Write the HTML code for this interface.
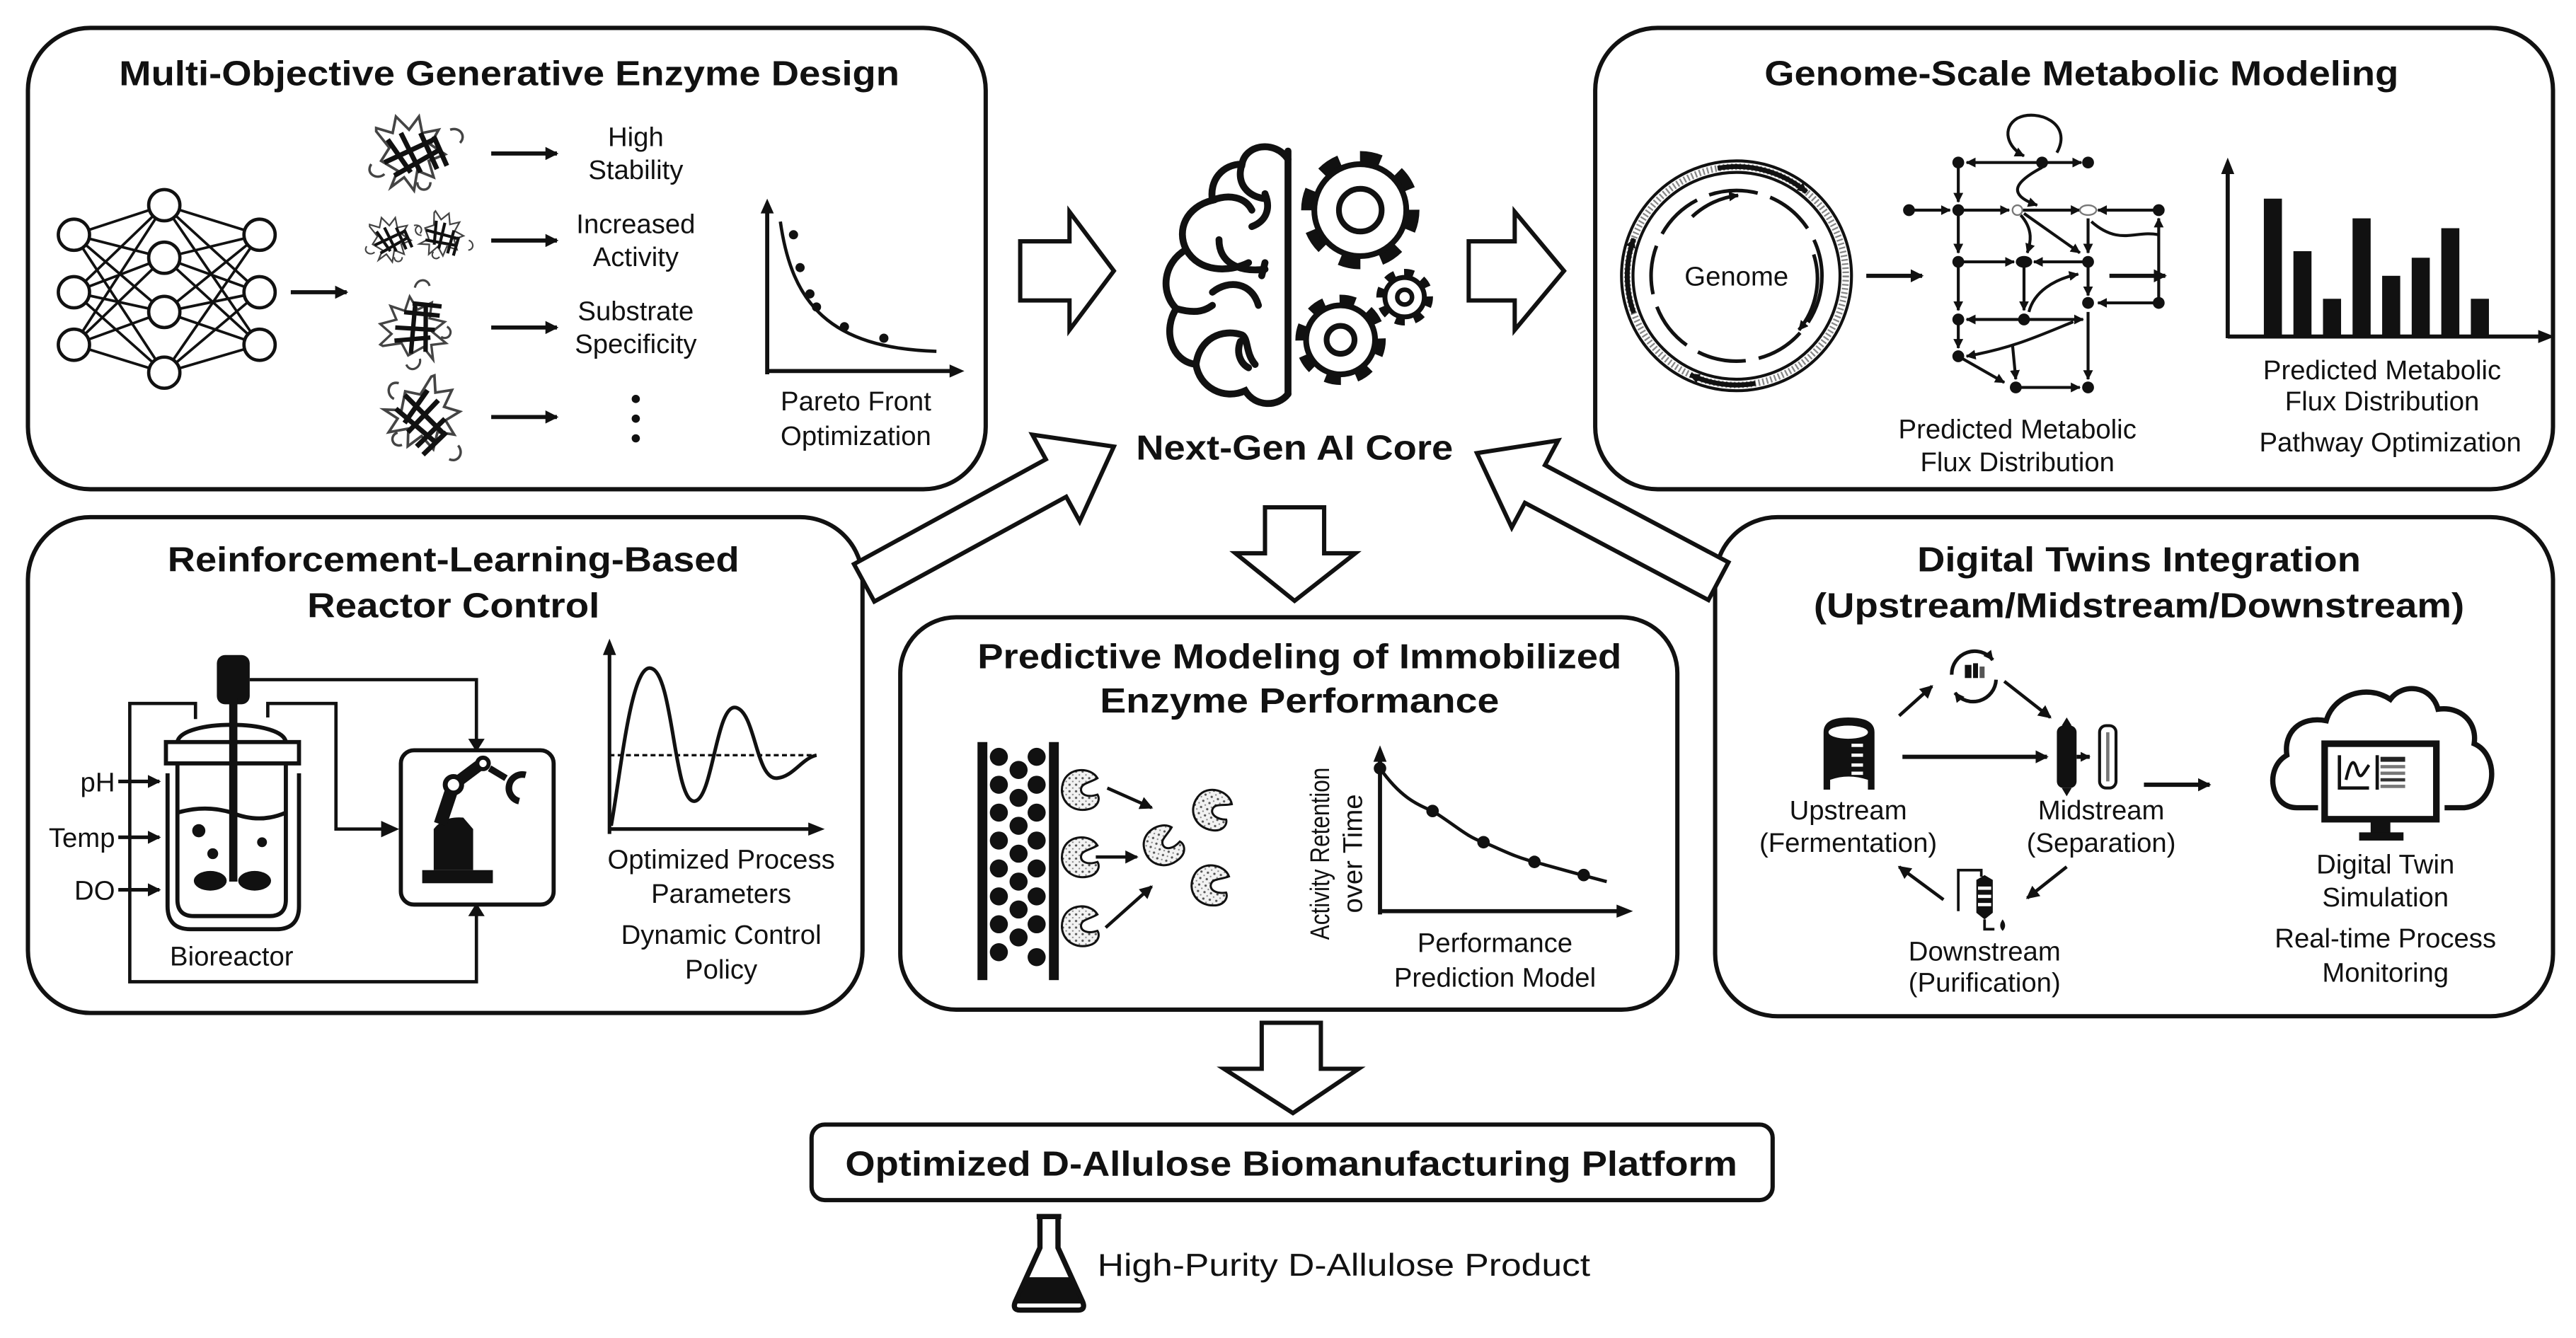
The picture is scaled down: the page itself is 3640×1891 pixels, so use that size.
<!DOCTYPE html>
<html><head><meta charset="utf-8"><style>
html,body{margin:0;padding:0;background:#fff;}
svg{display:block;}
text{font-family:"Liberation Sans",Arial,sans-serif;fill:#111;}
.t{font-weight:bold;font-size:21px;}
.b{font-size:16.5px;}
</style></head><body>
<svg width="3640" height="1891" viewBox="0 0 1568 815" preserveAspectRatio="none" xmlns="http://www.w3.org/2000/svg">
<defs>
<marker id="ah" markerWidth="8" markerHeight="8" refX="7" refY="4" orient="auto" markerUnits="userSpaceOnUse"><path d="M0,0 L8,4 L0,8 Z" fill="#111"/></marker>
<marker id="ahs" markerWidth="6" markerHeight="6" refX="5.5" refY="3" orient="auto" markerUnits="userSpaceOnUse"><path d="M0,0 L6,3 L0,6 Z" fill="#111"/></marker>
<pattern id="dots" width="4" height="4" patternUnits="userSpaceOnUse"><rect width="4" height="4" fill="#f2f2f2"/><circle cx="1" cy="1" r="0.7" fill="#555"/><circle cx="3" cy="3" r="0.5" fill="#888"/></pattern>
<g id="enz"><path d="M10,-7 C6,-14 -8,-14 -11,-4 C-14,6 -6,14 4,12 C10,11 12,6 10,3 C4,5 0,3 0,0 C0,-4 5,-4 10,-7 Z" fill="url(#dots)" stroke="#111" stroke-width="1.3"/></g>
<g id="prot" fill="none" stroke="#111">
<path d="M-25,-15 l8,10 -5,8 10,6 -4,10 8,-6 6,8 2,-12 10,4 -3,-10 10,-4 -9,-6 5,-9 -10,2 -2,-10 -6,8 -8,-8 -2,10 -10,-3 z" stroke-width="1.6" stroke="#444"/>
<path d="M-18,-10 l14,20 M-10,-14 l12,24 M2,-14 l10,22 M10,-12 l8,18 M-20,4 l30,-14 M-14,12 l28,-16" stroke-width="3"/>
<path d="M-28,5 c-4,6 4,10 8,6 M20,-16 c6,-2 10,4 6,8 M0,16 c0,6 8,6 8,0" stroke-width="1.5" stroke="#444"/>
</g>
</defs>
<rect width="1568" height="815" fill="#fff"/>

<g fill="none" stroke="#111" stroke-width="2.6">
<rect x="17" y="17" width="583" height="281" rx="38"/>
<rect x="971" y="17" width="583" height="281" rx="38"/>
<rect x="17" y="315" width="508" height="302" rx="38"/>
<rect x="548" y="376" width="473" height="239" rx="34"/>
<rect x="1044" y="315" width="510" height="304" rx="38"/>
<rect x="494" y="685" width="585" height="46" rx="8"/>
</g>

<g fill="#fff" stroke="#111" stroke-width="2.6" stroke-linejoin="miter">
<polygon points="621,147 651,147 651,129 678,165 651,201 651,183 621,183"/>
<polygon points="894,147 922,147 922,129 952,165 922,201 922,183 894,183"/>
<polygon points="519.8,343.6 636.6,279.8 628.4,264.8 678,272 657.2,317.6 649,302.6 532.2,366.4"/>
<polygon points="1052.1,342.5 940.4,283.3 948.4,268.3 899,276 920.2,321.3 928.2,306.3 1039.9,365.5"/>
<polygon points="770,309 806,309 806,337 825,337 788,366 752,337 770,337"/>
<polygon points="768,623 804,623 804,651 827,651 787,678 745,651 768,651"/>
</g>

<text class="t" x="310" y="52" text-anchor="middle" textLength="475" lengthAdjust="spacingAndGlyphs">Multi-Objective Generative Enzyme Design</text>
<g stroke="#111" stroke-width="1.6">
<line x1="45" y1="143" x2="100" y2="125"/><line x1="45" y1="143" x2="100" y2="157"/><line x1="45" y1="143" x2="100" y2="190"/><line x1="45" y1="143" x2="100" y2="227"/>
<line x1="45" y1="178" x2="100" y2="125"/><line x1="45" y1="178" x2="100" y2="157"/><line x1="45" y1="178" x2="100" y2="190"/><line x1="45" y1="178" x2="100" y2="227"/>
<line x1="45" y1="210" x2="100" y2="125"/><line x1="45" y1="210" x2="100" y2="157"/><line x1="45" y1="210" x2="100" y2="190"/><line x1="45" y1="210" x2="100" y2="227"/>
<line x1="158" y1="143" x2="100" y2="125"/><line x1="158" y1="143" x2="100" y2="157"/><line x1="158" y1="143" x2="100" y2="190"/><line x1="158" y1="143" x2="100" y2="227"/>
<line x1="158" y1="178" x2="100" y2="125"/><line x1="158" y1="178" x2="100" y2="157"/><line x1="158" y1="178" x2="100" y2="190"/><line x1="158" y1="178" x2="100" y2="227"/>
<line x1="158" y1="210" x2="100" y2="125"/><line x1="158" y1="210" x2="100" y2="157"/><line x1="158" y1="210" x2="100" y2="190"/><line x1="158" y1="210" x2="100" y2="227"/>
</g>
<g fill="#fff" stroke="#111" stroke-width="2">
<circle cx="45" cy="143" r="9.5"/><circle cx="45" cy="178" r="9.5"/><circle cx="45" cy="210" r="9.5"/>
<circle cx="100" cy="125" r="9.5"/><circle cx="100" cy="157" r="9.5"/><circle cx="100" cy="190" r="9.5"/><circle cx="100" cy="227" r="9.5"/>
<circle cx="158" cy="143" r="9.5"/><circle cx="158" cy="178" r="9.5"/><circle cx="158" cy="210" r="9.5"/>
</g>
<line x1="177" y1="178" x2="211" y2="178" stroke="#111" stroke-width="2.5" marker-end="url(#ah)"/>
<use href="#prot" x="254" y="95"/>
<use href="#prot" transform="translate(240,147) scale(0.6)"/>
<use href="#prot" transform="translate(270,146) scale(0.6) rotate(40)"/>
<use href="#prot" transform="translate(256,198) scale(0.9) rotate(-60)"/>
<use href="#prot" transform="translate(257,258) rotate(70)"/>
<g stroke="#111" stroke-width="2.5">
<line x1="299" y1="93.5" x2="339" y2="93.5" marker-end="url(#ah)"/>
<line x1="299" y1="146.5" x2="339" y2="146.5" marker-end="url(#ah)"/>
<line x1="299" y1="199.5" x2="339" y2="199.5" marker-end="url(#ah)"/>
<line x1="299" y1="254" x2="339" y2="254" marker-end="url(#ah)"/>
</g>
<text class="b" x="387" y="89" text-anchor="middle">High</text><text class="b" x="387" y="109" text-anchor="middle">Stability</text>
<text class="b" x="387" y="142" text-anchor="middle">Increased</text><text class="b" x="387" y="162" text-anchor="middle">Activity</text>
<text class="b" x="387" y="195" text-anchor="middle">Substrate</text><text class="b" x="387" y="215" text-anchor="middle">Specificity</text>
<text class="b" x="521" y="250" text-anchor="middle">Pareto Front</text><text class="b" x="521" y="271" text-anchor="middle">Optimization</text>
<circle cx="387" cy="243" r="2.5" fill="#111"/><circle cx="387" cy="255" r="2.5" fill="#111"/><circle cx="387" cy="267" r="2.5" fill="#111"/>
<path d="M467,228 V124 M467,226 H584" stroke="#111" stroke-width="2.5" fill="none"/>
<path d="M463,130 L467,121 L471,130 Z M578,222 L587,226 L578,230 Z" fill="#111"/>
<path d="M475,135 C482,185 505,212 570,214" stroke="#111" stroke-width="2" fill="none"/>
<g fill="#111"><circle cx="483" cy="143" r="2.8"/><circle cx="487" cy="163" r="2.8"/><circle cx="493" cy="179" r="2.8"/><circle cx="497" cy="187" r="2.8"/><circle cx="514" cy="199" r="2.8"/><circle cx="538" cy="206" r="2.8"/></g>

<g fill="none" stroke="#111" stroke-width="4.2" stroke-linecap="round">
<path d="M784,92 V240"/>
<path d="M784,97 C776,85 758,88 756,100 C744,100 736,110 738,122 C722,126 716,140 722,152 C708,160 706,178 716,188 C708,200 712,220 728,222 C730,236 745,244 758,238 C764,248 778,248 784,240"/>
<path d="M756,100 C752,112 760,120 770,121"/>
<path d="M738,122 C748,118 758,120 762,128 M770,118 C774,128 770,135 762,138"/>
<path d="M722,152 C730,166 748,166 760,160 M742,146 C742,160 754,166 770,164 M770,160 L768,168"/>
<path d="M716,188 C730,192 735,188 738,186"/>
<path d="M738,178 C748,170 762,172 766,186 M728,222 C730,206 744,200 756,204 C760,206 758,215 764,222 M755,208 C752,216 756,222 760,224"/>
</g>
<g fill="#fff" stroke="#111">
<circle cx="828" cy="128" r="32.5" stroke-width="7" stroke-dasharray="1 1" pathLength="16"/>
<circle cx="828" cy="128" r="28" stroke-width="3.5"/>
<circle cx="828" cy="128" r="13" stroke-width="3.5"/>
<circle cx="816" cy="207" r="24.5" stroke-width="6" stroke-dasharray="1 1" pathLength="16"/>
<circle cx="816" cy="207" r="21" stroke-width="3.5"/>
<circle cx="816" cy="207" r="8.5" stroke-width="3.5"/>
<circle cx="855" cy="181" r="15" stroke-width="4.5" stroke-dasharray="1 1" pathLength="16"/>
<circle cx="855" cy="181" r="12" stroke-width="3"/>
<circle cx="855" cy="181" r="4.5" stroke-width="2.8"/>
</g>
<text class="t" x="788" y="280" text-anchor="middle" textLength="193" lengthAdjust="spacingAndGlyphs">Next-Gen AI Core</text>

<text class="t" x="1267" y="52" text-anchor="middle" textLength="386" lengthAdjust="spacingAndGlyphs">Genome-Scale Metabolic Modeling</text>
<g fill="none" stroke="#111">
<circle cx="1057" cy="168" r="70" stroke-width="1.8"/>
<circle cx="1057" cy="168" r="63" stroke-width="1.8"/>
<circle cx="1057" cy="168" r="66.5" stroke-width="4" stroke="#888" stroke-dasharray="1 1.5"/>
<circle cx="1057" cy="168" r="52" stroke-width="2.2" stroke-dasharray="30 8"/>
<path d="M1045.5,102.5 A66.5,66.5 0 0 1 1099.7,117" stroke-width="3" marker-end="url(#ahs)"/>
<path d="M1068.5,233.5 A66.5,66.5 0 0 1 1028.9,228.3" stroke-width="3" marker-end="url(#ahs)"/>
<path d="M994.5,190.7 A66.5,66.5 0 0 1 994.5,145.3" stroke-width="3" marker-end="url(#ahs)"/>
<path d="M1104,155 A49,49 0 0 1 1095,201" stroke-width="2.2" marker-end="url(#ahs)"/>
<path d="M1030,132 A49,49 0 0 1 1058,119" stroke-width="2.2" marker-end="url(#ahs)"/>
</g>
<text class="b" x="1057" y="174" text-anchor="middle">Genome</text>
<line x1="1136" y1="168" x2="1170" y2="168" stroke="#111" stroke-width="2.5" marker-end="url(#ah)"/>
<g stroke="#111" stroke-width="1.8" fill="none">
<line x1="1243" y1="99" x2="1197" y2="99" marker-end="url(#ahs)"/><line x1="1243" y1="99" x2="1267" y2="99" marker-end="url(#ahs)"/>
<path d="M1252,93 C1262,75 1240,66 1228,72 C1218,78 1222,90 1232,95" marker-end="url(#ahs)"/>
<line x1="1162" y1="128" x2="1187" y2="128" marker-end="url(#ahs)"/><line x1="1192" y1="128" x2="1223" y2="128" marker-end="url(#ahs)"/><line x1="1228" y1="128" x2="1266" y2="128" marker-end="url(#ahs)"/><line x1="1314" y1="128" x2="1277" y2="128" marker-end="url(#ahs)"/>
<line x1="1192" y1="99" x2="1192" y2="123" marker-end="url(#ahs)"/><line x1="1192" y1="128" x2="1192" y2="154" marker-end="url(#ahs)"/><line x1="1192" y1="160" x2="1192" y2="189" marker-end="url(#ahs)"/><line x1="1192" y1="195" x2="1192" y2="212" marker-end="url(#ahs)"/>
<path d="M1243,102 C1228,110 1220,118 1240,125" marker-end="url(#ahs)"/>
<path d="M1230,131 C1238,140 1236,148 1234,154" marker-end="url(#ahs)"/>
<line x1="1232" y1="130" x2="1266" y2="154" marker-end="url(#ahs)"/>
<line x1="1192" y1="159.5" x2="1226" y2="159.5" marker-end="url(#ahs)"/><line x1="1271" y1="159.5" x2="1238" y2="159.5" marker-end="url(#ahs)"/>
<line x1="1232" y1="160" x2="1232" y2="189" marker-end="url(#ahs)"/>
<line x1="1271" y1="133" x2="1271" y2="154" marker-end="url(#ahs)"/><line x1="1271" y1="160" x2="1271" y2="180" marker-end="url(#ahs)"/>
<line x1="1314" y1="184.5" x2="1277" y2="184.5" marker-end="url(#ahs)"/><line x1="1314" y1="184" x2="1314" y2="133" marker-end="url(#ahs)"/>
<path d="M1273,135 C1290,150 1300,140 1314,143"/>
<line x1="1232" y1="194.6" x2="1197" y2="194.6" marker-end="url(#ahs)"/><line x1="1232" y1="194.6" x2="1268" y2="194.6" marker-end="url(#ahs)"/>
<path d="M1235,190 C1238,178 1250,170 1265,167" marker-end="url(#ahs)"/>
<path d="M1262,196 C1240,205 1225,212 1197,217" marker-end="url(#ahs)"/>
<line x1="1225" y1="210" x2="1227" y2="231" marker-end="url(#ahs)"/>
<line x1="1192" y1="217" x2="1220" y2="233" marker-end="url(#ahs)"/>
<line x1="1227" y1="236" x2="1266" y2="236" marker-end="url(#ahs)"/>
<line x1="1271" y1="190" x2="1271" y2="231" marker-end="url(#ahs)"/>
</g>
<g fill="#111">
<circle cx="1192" cy="99" r="3.6"/><circle cx="1243" cy="99" r="3.6"/><circle cx="1271" cy="99" r="3.6"/>
<circle cx="1162" cy="128" r="3.6"/><circle cx="1192" cy="128" r="3.6"/><circle cx="1314" cy="128" r="3.6"/>
<circle cx="1192" cy="159.5" r="3.6"/><ellipse cx="1232" cy="159.5" rx="5" ry="3.6"/><circle cx="1271" cy="159.5" r="3.6"/>
<circle cx="1271" cy="184.5" r="3.6"/><circle cx="1314" cy="184.5" r="3.6"/>
<circle cx="1192" cy="194.6" r="3.6"/><circle cx="1232" cy="194.6" r="3.6"/>
<circle cx="1192" cy="217" r="3.6"/><circle cx="1227" cy="236" r="3.6"/><circle cx="1271" cy="236" r="3.6"/>
</g>
<circle cx="1228" cy="128" r="3" fill="#fff" stroke="#777" stroke-width="1"/>
<ellipse cx="1271" cy="128" rx="5" ry="3" fill="#fff" stroke="#777" stroke-width="1"/>
<text class="b" x="1228" y="267" text-anchor="middle">Predicted Metabolic</text>
<text class="b" x="1228" y="287" text-anchor="middle">Flux Distribution</text>
<line x1="1284" y1="168" x2="1318" y2="168" stroke="#111" stroke-width="2.5" marker-end="url(#ah)"/>
<path d="M1356,206 V102 M1356,205 H1551" stroke="#111" stroke-width="2.5" fill="none"/>
<path d="M1352,106 L1356,96 L1360,106 Z M1545,201 L1555,205 L1545,209 Z" fill="#111"/>
<g fill="#111">
<rect x="1378" y="121" width="11" height="84"/><rect x="1396" y="153" width="11" height="52"/><rect x="1414" y="182" width="11" height="23"/><rect x="1432" y="133" width="11" height="72"/><rect x="1450" y="168" width="11" height="37"/><rect x="1468" y="157" width="11" height="48"/><rect x="1486" y="139" width="11" height="66"/><rect x="1504" y="182" width="11" height="23"/>
</g>
<text class="b" x="1450" y="231" text-anchor="middle">Predicted Metabolic</text>
<text class="b" x="1450" y="250" text-anchor="middle">Flux Distribution</text>
<text class="b" x="1455" y="275" text-anchor="middle">Pathway Optimization</text>

<text class="t" x="276" y="348" text-anchor="middle" textLength="348" lengthAdjust="spacingAndGlyphs">Reinforcement-Learning-Based</text>
<text class="t" x="276" y="376" text-anchor="middle" textLength="178" lengthAdjust="spacingAndGlyphs">Reactor Control</text>
<g fill="none" stroke="#111" stroke-width="2">
<path d="M119,438 V428.5 H79 V598 H290 V556"/>
<path d="M163,437 V428.5 H204.5 V505 H237" />
<path d="M152,414 H290 V451"/>
</g>
<path d="M232,500 L243,505 L232,510 Z M285,450 L290,458 L295,450 Z M285,558 L290,550 L295,558 Z" fill="#111"/>
<rect x="132" y="399" width="20" height="30" rx="5" fill="#111"/>
<g fill="none" stroke="#111" stroke-width="2.5">
<path d="M108,452 C110,438 172,438 174,452"/>
<rect x="101" y="452" width="81" height="13"/>
<path d="M108,465 V548 Q108,558 118,558 H164 Q174,558 174,548 V465"/>
<path d="M102,471 V552 Q102,566 116,566 H168 Q182,566 182,552 V471"/>
<path d="M108,495 Q125,490 141,495 Q158,502 174,495"/>
</g>
<rect x="139.5" y="425" width="5" height="112" fill="#111"/>
<ellipse cx="128" cy="536.5" rx="10" ry="6" fill="#111"/><ellipse cx="155" cy="536.5" rx="10" ry="6" fill="#111"/>
<circle cx="121" cy="506" r="4" fill="#111"/><circle cx="129.5" cy="520" r="3.3" fill="#111"/><circle cx="159.5" cy="513" r="3" fill="#111"/>
<g stroke="#111" stroke-width="2.2">
<line x1="72" y1="476" x2="97" y2="476" marker-end="url(#ah)"/>
<line x1="72" y1="510" x2="97" y2="510" marker-end="url(#ah)"/>
<line x1="72" y1="542" x2="97" y2="542" marker-end="url(#ah)"/>
</g>
<text class="b" x="70" y="482" text-anchor="end">pH</text>
<text class="b" x="70" y="516" text-anchor="end">Temp</text>
<text class="b" x="70" y="548" text-anchor="end">DO</text>
<text class="b" x="141" y="588" text-anchor="middle">Bioreactor</text>
<rect x="244" y="457" width="93" height="94" rx="8" fill="#fff" stroke="#111" stroke-width="2.5"/>
<g fill="#111" stroke="#111">
<rect x="257" y="530" width="43" height="8" stroke="none"/>
<path d="M264,530 V505 Q270,497 282,498 L288,505 V530 Z" stroke="none"/>
<line x1="268" y1="502" x2="276" y2="478" stroke-width="8"/>
<line x1="276" y1="478" x2="292" y2="466" stroke-width="7"/>
<circle cx="276" cy="478" r="5" fill="#fff" stroke-width="3"/>
<circle cx="294" cy="465" r="3.5" fill="#fff" stroke-width="2.5"/>
<line x1="298" y1="468" x2="308" y2="474" stroke-width="4"/>
<path d="M320,472 A8,8 0 1 0 316,488" fill="none" stroke-width="4"/>
</g>
<path d="M371,508 V395 M371,505 H498" stroke="#111" stroke-width="2.2" fill="none"/>
<path d="M367,399 L371,389 L375,399 Z M492,501 L502,505 L492,509 Z" fill="#111"/>
<line x1="371" y1="460" x2="497" y2="460" stroke="#111" stroke-width="1.5" stroke-dasharray="3 2"/>
<path d="M372,503 C378,470 384,405 396,407 C410,409 410,490 423,488 C434,486 436,428 448,431 C460,434 460,475 473,474 C483,473 488,462 497,460" fill="none" stroke="#111" stroke-width="2.2"/>
<text class="b" x="439" y="529" text-anchor="middle">Optimized Process</text>
<text class="b" x="439" y="550" text-anchor="middle">Parameters</text>
<text class="b" x="439" y="575" text-anchor="middle">Dynamic Control</text>
<text class="b" x="439" y="596" text-anchor="middle">Policy</text>

<text class="t" x="791" y="407" text-anchor="middle" textLength="392" lengthAdjust="spacingAndGlyphs">Predictive Modeling of Immobilized</text>
<text class="t" x="791" y="434" text-anchor="middle" textLength="243" lengthAdjust="spacingAndGlyphs">Enzyme Performance</text>
<rect x="595" y="452" width="6" height="145" fill="#111"/><rect x="638.5" y="452" width="6" height="145" fill="#111"/>
<g fill="#111">
<circle cx="608" cy="461" r="5.5"/><circle cx="631" cy="461" r="5.5"/><circle cx="620" cy="469" r="5.5"/><circle cx="608" cy="478" r="5.5"/><circle cx="631" cy="478" r="5.5"/><circle cx="620" cy="486" r="5.5"/>
<circle cx="608" cy="495" r="5.5"/><circle cx="631" cy="495" r="5.5"/><circle cx="620" cy="503" r="5.5"/><circle cx="608" cy="512" r="5.5"/><circle cx="631" cy="512" r="5.5"/><circle cx="620" cy="520" r="5.5"/>
<circle cx="608" cy="529" r="5.5"/><circle cx="631" cy="529" r="5.5"/><circle cx="620" cy="537" r="5.5"/><circle cx="608" cy="546" r="5.5"/><circle cx="631" cy="546" r="5.5"/><circle cx="620" cy="554" r="5.5"/>
<circle cx="608" cy="563" r="5.5"/><circle cx="631" cy="563" r="5.5"/><circle cx="620" cy="571" r="5.5"/><circle cx="608" cy="580" r="5.5"/><circle cx="631" cy="583" r="5.5"/>
</g>
<use href="#enz" x="658" y="481"/><use href="#enz" x="658" y="522"/><use href="#enz" x="658" y="564"/>
<use href="#enz" transform="translate(708,515) rotate(-30)"/><use href="#enz" transform="translate(738,493) rotate(20)"/><use href="#enz" transform="translate(737,539) rotate(10)"/>
<g stroke="#111" stroke-width="2">
<line x1="674" y1="480" x2="701" y2="492" marker-end="url(#ah)"/>
<line x1="667" y1="522" x2="692" y2="522" marker-end="url(#ah)"/>
<line x1="673" y1="565" x2="701" y2="540" marker-end="url(#ah)"/>
</g>
<path d="M840,557 V460 M840,555 H990" stroke="#111" stroke-width="2.5" fill="none"/>
<path d="M836,464 L840,454 L844,464 Z M984,551 L994,555 L984,559 Z" fill="#111"/>
<path d="M840,468 C852,485 862,490 872,494 C885,502 893,510 903,513 C915,518 922,522 934,525 C945,528 955,531 978,537" stroke="#111" stroke-width="2" fill="none"/>
<g fill="#111"><circle cx="840" cy="468" r="3.8"/><circle cx="872" cy="494" r="3.8"/><circle cx="903" cy="513" r="3.8"/><circle cx="934" cy="525" r="3.8"/><circle cx="964" cy="533" r="3.8"/></g>
<text class="b" transform="translate(809,520) rotate(-90)" text-anchor="middle" textLength="105" lengthAdjust="spacingAndGlyphs">Activity Retention</text>
<text class="b" transform="translate(829,520) rotate(-90)" text-anchor="middle">over Time</text>
<text class="b" x="910" y="580" text-anchor="middle">Performance</text>
<text class="b" x="910" y="601" text-anchor="middle">Prediction Model</text>

<text class="t" x="1302" y="348" text-anchor="middle" textLength="270" lengthAdjust="spacingAndGlyphs">Digital Twins Integration</text>
<text class="t" x="1302" y="376" text-anchor="middle" textLength="396" lengthAdjust="spacingAndGlyphs">(Upstream/Midstream/Downstream)</text>
<path d="M1110,481 V446 Q1110,437 1125,437 Q1141,437 1141,446 V481 H1137 V475 Q1125,471 1114,475 V481 Z" fill="#111"/>
<ellipse cx="1125" cy="446" rx="12" ry="4" fill="#fff"/>
<g fill="#fff"><rect x="1127" y="453" width="7" height="2"/><rect x="1127" y="459" width="7" height="2"/><rect x="1127" y="465" width="7" height="2"/><rect x="1127" y="470" width="7" height="2"/></g>
<text class="b" x="1125" y="499" text-anchor="middle">Upstream</text>
<text class="b" x="1125" y="519" text-anchor="middle">(Fermentation)</text>
<g fill="none" stroke="#111" stroke-width="2.2">
<path d="M1188,411 A14,14 0 0 1 1213,402" marker-end="url(#ahs)"/>
<path d="M1215,414 A14,14 0 0 1 1190,422" marker-end="url(#ahs)"/>
</g>
<rect x="1196" y="405" width="4" height="8" fill="#111"/><rect x="1201" y="404" width="3" height="9" fill="#111"/><rect x="1205" y="406" width="3" height="7" fill="#555"/>
<g stroke="#111" stroke-width="2">
<line x1="1156" y1="436" x2="1176" y2="418" marker-end="url(#ah)"/>
<line x1="1220" y1="415" x2="1248" y2="437" marker-end="url(#ah)"/>
<line x1="1158" y1="461" x2="1246" y2="461" stroke-width="2.6" marker-end="url(#ah)"/>
<line x1="1258" y1="528" x2="1234" y2="547" marker-end="url(#ah)"/>
<line x1="1183" y1="548" x2="1156" y2="528" marker-end="url(#ah)"/>
<line x1="1305" y1="478" x2="1345" y2="478" stroke-width="2.6" marker-end="url(#ah)"/>
</g>
<rect x="1252" y="442" width="12" height="38" rx="4" fill="#111"/>
<path d="M1258,437 L1261,442 H1255 Z M1258,485 L1261,480 H1255 Z" fill="#111"/>
<line x1="1264" y1="461" x2="1272" y2="461" stroke="#111" stroke-width="2.5" marker-end="url(#ahs)"/>
<rect x="1278" y="442" width="10" height="38" rx="4" fill="#fff" stroke="#111" stroke-width="1.8"/>
<line x1="1283" y1="446" x2="1283" y2="476" stroke="#777" stroke-width="2"/>
<text class="b" x="1279" y="499" text-anchor="middle">Midstream</text>
<text class="b" x="1279" y="519" text-anchor="middle">(Separation)</text>
<path d="M1192,555 V530 H1206 V534" fill="none" stroke="#111" stroke-width="1.6"/>
<path d="M1203,536 L1208,533 L1213,536 V556 L1208,560 L1203,556 Z" fill="#111"/>
<g fill="#fff"><rect x="1204" y="540" width="8" height="2"/><rect x="1204" y="545" width="8" height="2"/><rect x="1204" y="550" width="8" height="2"/></g>
<path d="M1208,560 V566 H1214" fill="none" stroke="#111" stroke-width="1.6"/>
<path d="M1219,560 Q1222,564 1219,567 Q1216,564 1219,560 Z" fill="#111"/>
<text class="b" x="1208" y="585" text-anchor="middle">Downstream</text>
<text class="b" x="1208" y="604" text-anchor="middle">(Purification)</text>
<path d="M1411,492 H1398 C1382,492 1378,468 1392,460 C1390,446 1400,436 1416,439 C1420,424 1440,416 1455,426 C1462,416 1480,417 1484,432 C1498,430 1508,440 1506,453 C1522,460 1520,490 1500,492 H1488" fill="none" stroke="#111" stroke-width="3.2"/>
<rect x="1415" y="453" width="68" height="46" fill="#fff" stroke="#111" stroke-width="4"/>
<rect x="1443" y="499" width="12" height="9" fill="#111"/><rect x="1436" y="507" width="27" height="5" fill="#111"/>
<path d="M1424,460 V480 H1442" fill="none" stroke="#111" stroke-width="2"/>
<path d="M1428,475 C1431,462 1433,462 1435,470 C1437,476 1439,470 1442,466" fill="none" stroke="#111" stroke-width="1.8"/>
<rect x="1446" y="460" width="2" height="21" fill="#111"/>
<g fill="#777"><rect x="1449" y="461" width="15" height="3" fill="#222"/><rect x="1449" y="466" width="15" height="2"/><rect x="1449" y="470" width="15" height="2"/><rect x="1449" y="474" width="15" height="2" fill="#333"/><rect x="1449" y="478" width="15" height="2"/></g>
<text class="b" x="1452" y="532" text-anchor="middle">Digital Twin</text>
<text class="b" x="1452" y="552" text-anchor="middle">Simulation</text>
<text class="b" x="1452" y="577" text-anchor="middle">Real-time Process</text>
<text class="b" x="1452" y="598" text-anchor="middle">Monitoring</text>

<text class="t" x="786" y="716" text-anchor="middle" textLength="543" lengthAdjust="spacingAndGlyphs">Optimized D-Allulose Biomanufacturing Platform</text>
<path d="M631,741 H646 M633,741 V760 L618,793 Q616,798 621,798 H656 Q661,798 659,793 L644,760 V741" fill="none" stroke="#111" stroke-width="3.2"/>
<path d="M626,778 H651 L658,794 H619 Z" fill="#111"/>
<text x="668" y="777" font-size="19" textLength="300" lengthAdjust="spacingAndGlyphs">High-Purity D-Allulose Product</text>
</svg>
</body></html>
